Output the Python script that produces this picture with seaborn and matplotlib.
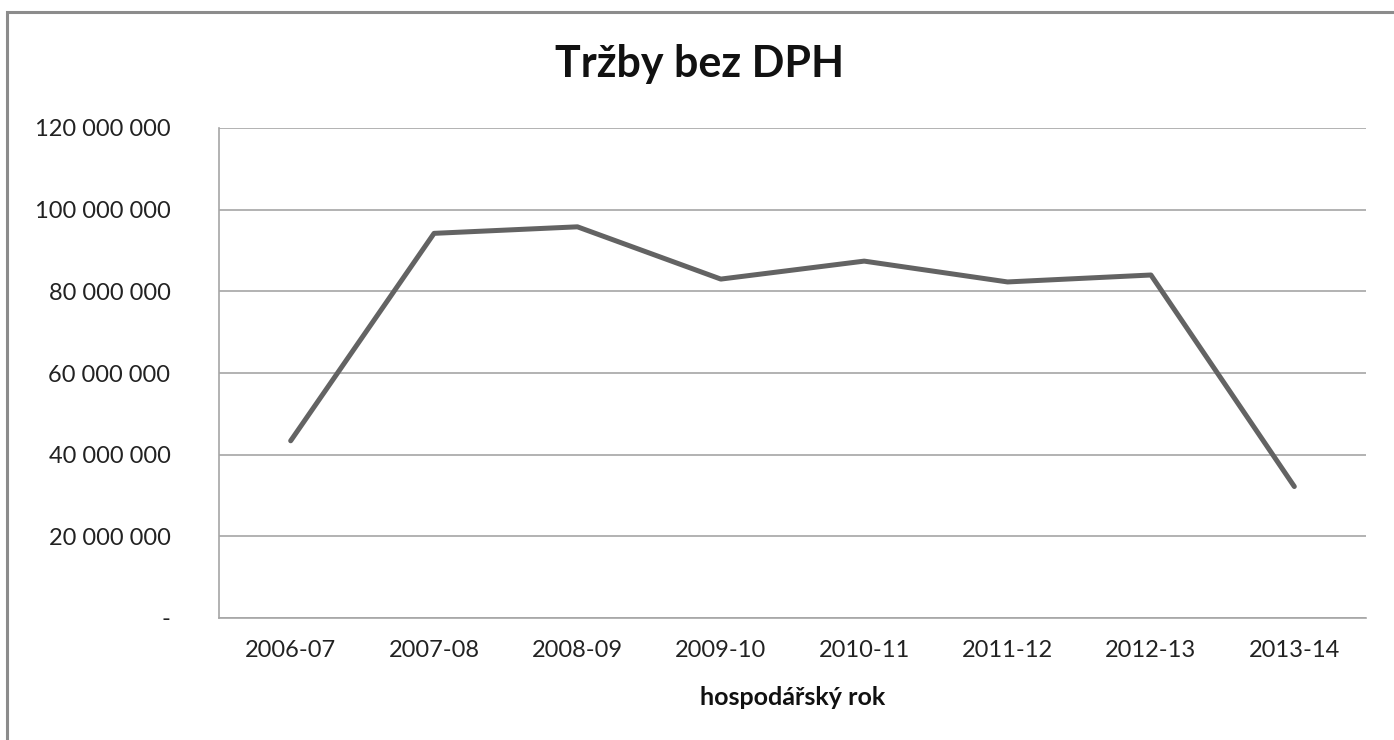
import pandas as pd
import matplotlib.pyplot as plt
import matplotlib.ticker as mticker
from matplotlib.patches import Rectangle
import seaborn as sns

roky = ["2006-07", "2007-08", "2008-09", "2009-10", "2010-11", "2011-12", "2012-13", "2013-14"]
trzby = [43_400_000, 94_200_000, 95_800_000, 83_000_000, 87_400_000, 82_300_000, 84_000_000, 32_200_000]

df = pd.DataFrame({"rok": roky, "trzby": trzby})

sns.set_style("white")
plt.rcParams['font.family'] = ['Lato', 'DejaVu Sans']

fig = plt.figure(figsize=(13.94, 7.40), dpi=100)
ax = fig.add_axes([219/1394, 122/740, (1366-219)/1394, (618-128)/740])

sns.lineplot(data=df, x="rok", y="trzby", ax=ax, color="#636363", linewidth=3.6,
             solid_capstyle="round", solid_joinstyle="round", sort=False)

ax.set_xlim(-0.5, 7.5)
ax.set_ylim(0, 120_000_000)
ax.yaxis.set_major_locator(mticker.MultipleLocator(20_000_000))

def fmt(v, pos):
    if v == 0:
        return "-"
    return f"{v:,.0f}".replace(",", " ")

ax.yaxis.set_major_formatter(mticker.FuncFormatter(fmt))
ax.grid(axis="y", color="#a6a6a6", linewidth=1.2)
ax.set_axisbelow(True)
for s in ["top", "right"]:
    ax.spines[s].set_visible(False)
ax.spines["left"].set_color("#a6a6a6")
ax.spines["bottom"].set_color("#a6a6a6")
ax.spines["left"].set_linewidth(1.2)
ax.spines["bottom"].set_linewidth(1.2)
ax.tick_params(axis="both", length=0, labelsize=17, colors="#222222")
ax.tick_params(axis="y", pad=35)
ax.tick_params(axis="x", pad=16)
for lab in ax.get_yticklabels():
    lab.set_horizontalalignment("right")

ax.set_ylabel("")
ax.set_xlabel("hospodářský rok", fontsize=18, fontweight="bold", labelpad=18, color="#111111")
fig.text(0.502, 0.913, "Tržby bez DPH", ha="center", va="center", fontsize=31,
         fontweight="bold", color="#111111")

fig.patches.append(Rectangle((7/1394, -0.1), 1.2, (740-12)/740 + 0.1, transform=fig.transFigure,
                             fill=False, edgecolor="#8c8c8c", linewidth=2.2))

fig.savefig("out.png", dpi=100)
